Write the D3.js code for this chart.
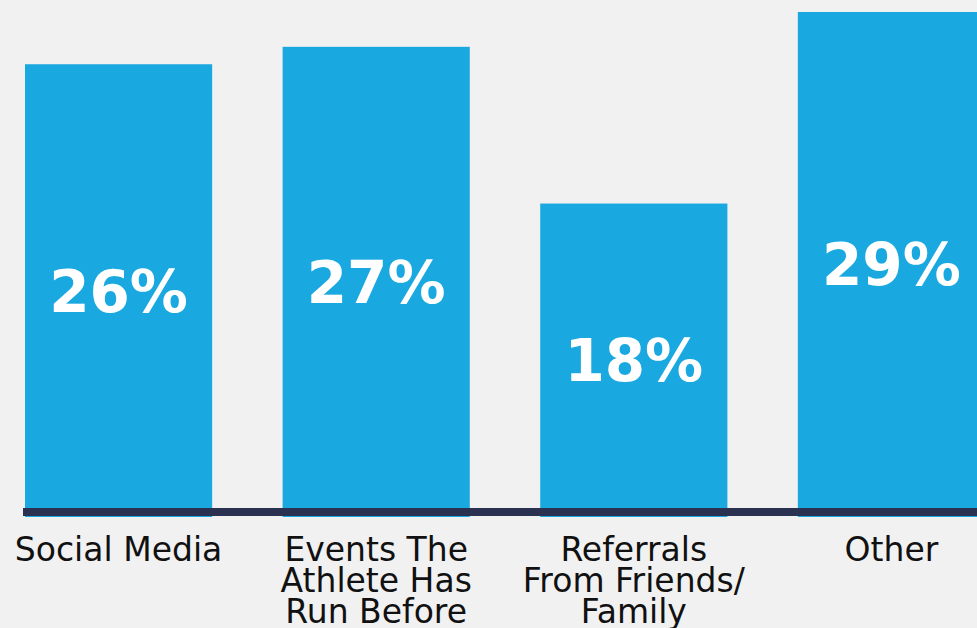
<!DOCTYPE html>
<html>
<head>
<meta charset="utf-8">
<script src="https://cdn.jsdelivr.net/npm/d3@7"></script>
<style>
  html, body { margin: 0; padding: 0; background: #f1f1f1; }
  svg { display: block; }
</style>
</head>
<body>
<svg id="chart" width="977" height="628"></svg>
<script>
// How athletes find the races they enter
const categories = [
  ["Social Media"],
  ["Events The", "Athlete Has", "Run Before"],
  ["Referrals", "From Friends/", "Family"],
  ["Other"]
];
const shares = [26, 27, 18, 29];

const width = 977, height = 628;
const baseY = 517;

const svg = d3.select("#chart");
svg.append("rect").attr("width", width).attr("height", height).attr("fill", "#f1f1f1");

const keys = categories.map(c => c.join(" "));
const x = d3.scaleBand().domain(keys).range([25, 985]).paddingInner(70 / 256).paddingOuter(0);
const y = d3.scaleLinear().domain([0, 29]).range([baseY, 12]);

const data = keys.map((k, i) => ({ key: k, lines: categories[i], v: shares[i] }));

// bars
svg.selectAll("rect.bar").data(data).join("rect")
  .attr("class", "bar")
  .attr("x", d => x(d.key))
  .attr("y", d => y(d.v))
  .attr("width", x.bandwidth())
  .attr("height", d => y(0) - y(d.v))
  .attr("fill", "#19a8e0");

// baseline
svg.append("rect")
  .attr("x", 23).attr("y", 508)
  .attr("width", width - 23).attr("height", 8)
  .attr("fill", "#2b3150");

// value labels in the middle of each bar
svg.selectAll("text.val").data(data).join("text")
  .attr("class", "val")
  .attr("x", d => x(d.key) + x.bandwidth() / 2)
  .attr("y", d => (y(d.v) + y(0)) / 2)
  .attr("dy", "0.36em")
  .attr("text-anchor", "middle")
  .attr("font-family", "'DejaVu Sans', sans-serif")
  .attr("font-weight", "bold")
  .attr("font-size", 58)
  .attr("fill", "#ffffff")
  .text(d => d.v + "%");

// category labels under the baseline
const lab = svg.selectAll("text.cat").data(data).join("text")
  .attr("class", "cat")
  .attr("text-anchor", "middle")
  .attr("font-family", "'DejaVu Sans', sans-serif")
  .attr("font-size", 33)
  .attr("fill", "#111111");
lab.selectAll("tspan").data(d => d.lines.map(l => ({ l, cx: x(d.key) + x.bandwidth() / 2 }))).join("tspan")
  .attr("x", t => t.cx)
  .attr("y", (t, i) => 561 + i * 31)
  .text(t => t.l);
</script>
</body>
</html>
